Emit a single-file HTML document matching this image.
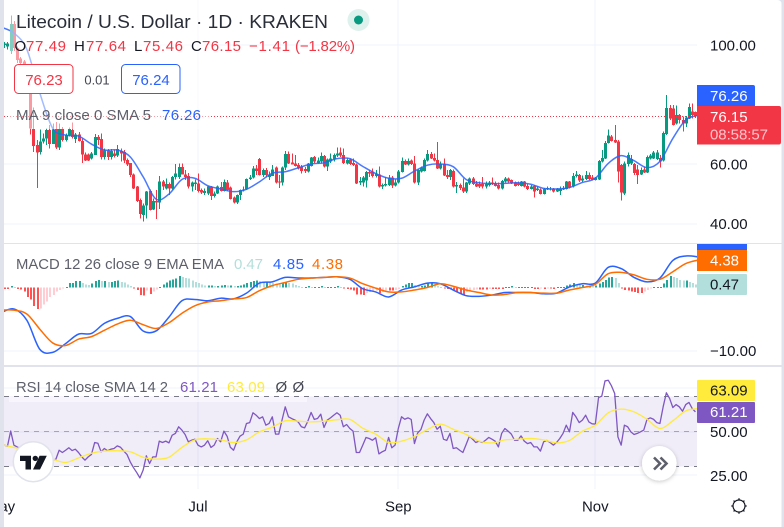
<!DOCTYPE html>
<html lang="en">
<head>
<meta charset="utf-8">
<title>Litecoin / U.S. Dollar chart</title>
<style>
html,body{margin:0;padding:0;background:#e0e3eb;}
svg{display:block;font-family:"Liberation Sans",sans-serif;}
text{font-size:15px;fill:#131722;}
</style>
</head>
<body>
<svg id="chart" xmlns="http://www.w3.org/2000/svg" width="784" height="527" viewBox="0 0 784 527">
  <defs>
    <clipPath id="clip-main"><rect x="4" y="0" width="693" height="243"/></clipPath>
    <clipPath id="clip-macd"><rect x="4" y="244" width="693" height="121"/></clipPath>
    <clipPath id="clip-rsi"><rect x="4" y="367" width="693" height="122"/></clipPath>
    <clipPath id="clip-time"><rect x="4" y="489" width="693" height="38"/></clipPath>
    <filter id="soft-shadow" x="-50%" y="-50%" width="200%" height="200%"><feDropShadow dx="0" dy="1" stdDeviation="2" flood-color="#000" flood-opacity="0.22"/></filter>
  </defs>
  <path d="M4 0H777Q781.5 0 781.5 4V527H4Z" fill="#ffffff"/>
  <g id="grid"></g>
  <rect id="rsi-band" x="4" y="396.5" width="693" height="70" fill="#7e57c2" fill-opacity="0.115"/>
  <g id="guides"></g>
  <g id="main-marks" clip-path="url(#clip-main)"></g>
  <line x1="4" x2="697" y1="116.5" y2="116.5" stroke="#f23645" stroke-width="1" stroke-dasharray="1 2"/>
  <g id="macd-marks" clip-path="url(#clip-macd)"></g>
  <g id="rsi-marks" clip-path="url(#clip-rsi)"></g>
  <rect x="10" y="0" width="200" height="129" fill="#ffffff" fill-opacity="0.5"/>
  <rect x="9" y="397" width="298" height="5" fill="#ffffff" fill-opacity="0.55"/>
  <rect x="4" y="243" width="777.5" height="1" fill="#e0e3eb"/>
  <rect x="4" y="365" width="777.5" height="2" fill="#e0e3eb"/>
  <g id="axis-labels"></g>

  <text x="16" y="28" style="font-size:18.5px;fill:#2a2e39" textLength="312" lengthAdjust="spacingAndGlyphs">Litecoin / U.S. Dollar · 1D · KRAKEN</text>
  <circle cx="358.5" cy="20" r="11" fill="#dff1ed"/>
  <circle cx="358.5" cy="20" r="4.5" fill="#089981"/>

  <g>
    <text x="14.5" y="51" textLength="11">O</text>
    <text x="26" y="51" style="fill:#f23645" textLength="40">77.49</text>
    <text x="74" y="51" textLength="11">H</text>
    <text x="86" y="51" style="fill:#f23645" textLength="40">77.64</text>
    <text x="134" y="51" textLength="8.5">L</text>
    <text x="143" y="51" style="fill:#f23645" textLength="40">75.46</text>
    <text x="191" y="51" textLength="10.5">C</text>
    <text x="202" y="51" style="fill:#f23645" textLength="39">76.15</text>
    <text x="249" y="51" style="fill:#f23645" textLength="41">−1.41</text>
    <text x="295" y="51" style="fill:#f23645" textLength="60">(−1.82%)</text>
  </g>

  <g>
    <rect x="14.5" y="64.5" width="58.5" height="29" rx="4" fill="#ffffff" stroke="#f23645"/>
    <text x="44" y="85" text-anchor="middle" style="fill:#f23645">76.23</text>
  </g>
  <text x="97" y="84.5" text-anchor="middle" style="font-size:13px;fill:#434651">0.01</text>
  <g>
    <rect x="121.5" y="64.5" width="58.5" height="29" rx="4" fill="#ffffff" stroke="#2962ff"/>
    <text x="151" y="85" text-anchor="middle" style="fill:#2962ff">76.24</text>
  </g>

  <text x="16" y="120" style="fill:#5d606b" textLength="135" lengthAdjust="spacingAndGlyphs">MA 9 close 0 SMA 5</text>
  <text x="162" y="120" style="fill:#2962ff" textLength="39">76.26</text>

  <text x="16" y="269" style="fill:#5d606b" textLength="208" lengthAdjust="spacingAndGlyphs">MACD 12 26 close 9 EMA EMA</text>
  <text x="234" y="269" style="fill:#b2dfdb" textLength="29">0.47</text>
  <text x="273" y="269" style="fill:#2962ff" textLength="31">4.85</text>
  <text x="312" y="269" style="fill:#ff6d00" textLength="31">4.38</text>

  <text x="16" y="392" style="fill:#5d606b" textLength="152" lengthAdjust="spacingAndGlyphs">RSI 14 close SMA 14 2</text>
  <text x="180" y="392" style="fill:#7e57c2" textLength="38">61.21</text>
  <text x="227" y="392" style="fill:#ffeb3b" textLength="38">63.09</text>
  <text x="275.5" y="392" style="fill:#434651">Ø</text>
  <text x="292.5" y="392" style="fill:#434651">Ø</text>

  <g>
    <path d="M697 85H753Q755 85 755 87V106H697Z" fill="#2962ff"/>
    <text x="710" y="101" style="fill:#ffffff">76.26</text>
  </g>
  <g>
    <path d="M697 106H779Q781 106 781 108V142Q781 144.5 779 144.5H697Z" fill="#f23645"/>
    <text x="710" y="122" style="fill:#ffffff">76.15</text>
    <text x="710" y="139.5" style="fill:#fbc4ca" textLength="58">08:58:57</text>
  </g>

  <rect x="697" y="244" width="50" height="7" fill="#2962ff"/>
  <rect x="697" y="250" width="50" height="21" fill="#ff6d00"/>
  <text x="710" y="265.5" style="fill:#ffffff" textLength="29">4.38</text>
  <rect x="697" y="274" width="50" height="21" rx="1" fill="#b2dfdb"/>
  <text x="710" y="289.5" style="fill:#131722" textLength="29">0.47</text>

  <rect x="697" y="380" width="58" height="21" rx="1" fill="#ffeb3b"/>
  <text x="710" y="395.5" style="fill:#131722">63.09</text>
  <rect x="697" y="402" width="58" height="21" rx="1" fill="#7e57c2"/>
  <text x="710" y="417" style="fill:#ffffff">61.21</text>

  <g>
    <circle cx="33.3" cy="461.7" r="20" fill="#ffffff" stroke="#e0e3eb" stroke-width="1.5"/>
    <path d="M20 455.7H31V469.5H25.5V461H20Z M39.6 455.7H46.8L40 469.5H33Z" fill="#131722"/>
    <circle cx="35.3" cy="458.4" r="2.7" fill="#131722"/>
  </g>
  <g>
    <circle cx="659.3" cy="463.3" r="17.3" fill="#ffffff" filter="url(#soft-shadow)"/>
    <path d="M654 457.5L660 463.5L654 469.5M660.5 457.5L666.5 463.5L660.5 469.5" fill="none" stroke="#5d606b" stroke-width="2.6"/>
  </g>
  <g fill="none" stroke="#131722">
    <circle cx="739" cy="506" r="6" stroke-width="1.2"/>
    <path d="M739 498.3V500M739 512V513.7M731.3 506H733M745 506H746.7M733.6 500.6L734.8 501.8M743.2 510.2L744.4 511.4M733.6 511.4L734.8 510.2M743.2 501.8L744.4 500.6" stroke-width="1.3"/>
  </g>
</svg>

<script>
// ---- chart data ----
const opens = [
99,100,99.5,98,107,99,95.5,94.5,93,84,
71.7,66.4,64.1,67.5,68.6,71.4,66.7,71.7,65.6,71.7,
68,69.5,71.4,68.4,70,67.8,63.2,63.2,61.9,63.1,
69,68.4,62.4,64.5,62.4,63.6,62.8,64.4,64.1,61.3,
60.3,56.5,52.4,47.9,42.8,46,51,44.7,47.5,47,
54.2,51.8,53.3,51.8,55.6,55.7,59,56.5,55.9,52.4,
53.3,53.5,51.2,50.3,50.1,52.4,49.2,50.1,52.2,51,
53.8,52.1,48.7,47,49.5,51.2,51.5,54.9,55.5,58.5,
61.7,56.3,58,55.7,56,58.8,54.1,53.7,58.8,63.3,
60.5,60.2,59.7,59.1,58.3,57.4,59.4,62.4,60.4,60.8,
62.7,59.1,60.8,61.5,62.8,63.8,63,60.2,61.5,60.4,
59.9,53.7,53.8,54.4,57.3,57.4,56,56.5,52.4,52.7,
53,55.5,52.7,53.7,57.3,61,59.9,61.1,60.2,53.7,
57.4,57.7,61.1,63.3,62.1,61.3,58.5,60.2,56.3,55.7,
57.6,52.4,53,52.1,50.7,53.5,55.2,53.5,53.3,53.3,
52.4,53,53.8,53.5,53,51.7,54.1,55.2,54.6,53.7,
53.5,52.6,54.1,52.6,51.6,52.6,51.2,51.5,50,51.5,
51.5,51.8,50.8,51,51.5,51.6,54.1,52.4,56,56.3,
54.4,55,56.3,55.4,54.6,54.8,60.8,61.9,67.1,69.2,
68,67.5,59.6,50.1,60,60.2,60,58.2,56.5,58.2,
57.2,61.9,61.9,61.7,62.1,61.1,70.1,78.9,78.7,73.6,
76.5,74.8,73.6,75.3,77.6,77.49];
const highs = [
100,101,101,110,108,99.5,96,95,93.5,85,
79,68,71.6,70.3,72,73.1,73.6,74.2,73.6,72.5,
70.3,72.3,73.9,70.5,70.8,68.6,63.9,63.6,64.1,70.1,
69.7,70.3,65.2,65,65,64.7,66.4,65.2,64.7,61.9,
60.4,56.8,52.6,48.4,46.8,50.9,51.5,48.4,51.2,56,
54.6,55.1,53.7,56,60,60.2,60.2,58,57,54.2,
54.8,56.8,51.8,51.8,52.6,52.6,50.7,52.7,54,54.8,
54.6,52.4,49,49.7,51.5,52.4,55.2,56.3,59.3,59.6,
62,58.5,58.7,57.4,59.6,59.1,56.3,59.1,64.4,64.2,
63.6,63,60.4,59.7,59,60.4,62.4,62.7,62.2,63.9,
63,61.9,63.6,63.6,65.6,65.6,65.2,61.9,61.9,61.9,
60.2,55.7,56,57.7,58,58.5,58,59.1,53.5,55.7,
56.3,56,54.8,58,62.2,61.5,61.9,61.5,62.7,58.2,
59.1,61.9,64.7,64.1,63.6,67.4,60.8,61.9,58,58.3,
58.2,54,53.5,55.2,54,55.5,55.7,54.3,54.1,55.7,
54.1,54.3,55.5,54.1,53.7,54.6,55.7,55.5,54.8,54.1,
54.1,54.3,54.3,53.2,53,53,52.4,51.8,52,52.4,
52.3,52,52,52.4,52.6,54.3,54.3,56.9,57.6,56.6,
56.1,57.6,57.1,56.3,55.7,61.3,64.7,67.8,71.6,69.7,
73.1,68,60,60.8,63.9,63,60.4,59.6,58.9,59.1,
62.8,63.3,64.3,64.7,63,70.9,83.2,79.8,79.8,79.6,
76.8,75.9,76.1,80.4,80.4,77.64];
const lows = [
98,99,98.5,97,98,94,92,91,85,70,
64.1,52,63.2,66.9,66.4,65.2,66.7,65,64.7,67.5,
67.5,69.2,68.6,67.1,67.5,60.4,61,61,61.5,63,
66.4,61.5,61.5,61.3,61.5,62.2,62.4,60.8,60.4,59.3,
55.7,51.6,47.3,41.7,40.6,41.7,44.3,44.5,41.5,44.8,
51.2,51.5,49.6,51.5,54.8,55,56.5,54.6,51.8,50.7,
51.2,50.4,49.9,49.6,49.6,47.9,48.8,49.9,50.7,50.7,
51,48.1,46.8,46.5,47.9,50.7,51.2,54.6,55.2,56.3,
56.2,55.7,55.5,54.6,56,53.5,52,52.8,58,60,
59.8,59.1,58.2,56.8,57,57.2,59.1,60.4,60.2,60.2,
58.9,57.7,60.4,60.8,62.4,62.4,60,59.9,59.7,59.4,
53.3,52.9,52.4,52.1,55.7,55.5,55.5,52.1,51.6,52.4,
52.6,52,52.5,53.5,57.1,59.7,59.5,59.7,53.5,52.9,
57.1,57.4,60.8,61.6,60.8,58.3,58.2,56,54.9,54.6,
52.1,50.3,51.2,50.3,50.3,53,53,52.2,52,51.8,
51.8,52.4,53,52.4,51.5,51.5,53.7,53.7,53.3,52.4,
52.6,52.4,52.1,51.2,51.5,48.7,51,49.8,49.8,51.2,
51.1,50.5,50.6,49.6,51.2,51.5,51.8,52.1,55.5,54,
54,54.6,54.6,54.4,54.4,54.6,60.5,61.7,66.9,67.5,
67,53.7,47.7,49.6,59.1,59.6,56.3,53.3,56.3,56.9,
56.9,61.5,61.7,61.3,58.9,60.9,69.8,74.8,72.9,73.3,
73.6,70.9,72.5,75.1,75.3,75.46];
const closes = [
100,100.5,100.5,107,99,95,94,93,88,72,
66.1,63.9,67.6,68.6,71.4,66.7,71.6,65.5,71.7,68,
69.7,71.7,69,70,67.8,63.2,61.1,61.1,63.6,69,
68,62.4,64.5,62.4,64.4,62.7,65,63.6,61.1,59.9,
56.3,51.8,47.5,43.2,46,50.7,44.5,47.5,47,54.2,
52.4,53.3,51.7,55.6,56.8,59,56.5,55.7,52.4,53.7,
53.7,50.9,50.4,50.9,52.4,49.2,50.1,52.4,51,54,
51.2,48.3,47,49.5,51.2,51.5,55,55.5,58.5,57.7,
56.3,58,56.3,56.5,58.2,53.7,53.7,58.9,63.3,60.2,
59.9,59.3,58.5,57.6,57.6,60.2,62.2,60.8,61.1,62.7,
59.1,61.5,61.9,63,63.6,62.9,60.4,61.3,60,59.7,
53.5,54.3,55.5,57.3,56.8,56,56.8,52.4,53,53.3,
55.5,52.7,53.8,57.4,61,59.9,61,60,53.7,58,
58.9,61.3,63.3,61.9,61.1,58.5,60,56.1,55.7,58,
52.4,53,52,50.7,53.7,55.2,53.3,52.4,52.4,52.4,
53.3,53.8,53.3,52.6,51.7,54.3,55.2,54.1,53.5,52.6,
53,54.1,52.4,51.6,52.4,50.7,51.8,50,51.6,52,
51.8,50.7,51.7,51.6,52,54.1,52.1,56,56.5,54.4,
55.2,56.3,55,54.8,55.4,61,62.1,67.1,69.5,67.8,
67.3,57.4,50.4,60.2,63,61.6,56.9,56.3,58,57.2,
62.4,62.8,63.9,63.8,60.8,70.5,78.9,75.3,73.1,76.5,
74.8,73.6,75.7,79.2,76.5,76.15];

// Smooth lines were read once every SMOOTH_STEP daily bars.
const SMOOTH_STEP = 4;
const maValues = [106,104,98.5,83.9,72,69.7,69.4,66.7,64.7,64.7,62.4,55.7,48.2,49.9,54.8,55.2,52.7,51.6,50.7,51.5,54,56.9,57.4,58.7,60,60.4,61.8,61.8,59.2,56.8,55.2,55.2,57.6,59.6,60,59.1,54.8,53.7,53.4,53.5,53.7,53.2,51.8,51.6,52.1,53.8,55.2,60.2,62.8,61.1,58.8,60.9,68.6,74.8,76.4];
const macdValues = [-4,-3.4,-5.2,-9.8,-10.3,-8.9,-7.4,-7.3,-5.7,-4.9,-4.6,-6.9,-6.9,-4.7,-2.1,-1.9,-2.1,-1.7,-1.8,-0.9,0.7,0.9,1.6,1.5,1.5,1.6,1.7,1.3,-0.2,-0.7,-1.5,-0.4,0.1,0.7,0.6,-0.4,-1.3,-1.4,-1.2,-0.8,-0.8,-0.8,-1,-0.9,0.1,0.6,0.7,3.2,3,1.6,0.9,1.5,4.3,5,4.85];
const signalValues = [-3.6,-3.6,-4.2,-6.6,-8.8,-9.2,-8.2,-7.8,-6.8,-5.8,-5.2,-5.9,-6.5,-5.6,-4.1,-2.9,-2.3,-2.1,-1.8,-1.6,-0.5,0.3,0.8,1.3,1.5,1.6,1.7,1.5,0.6,-0.1,-0.7,-0.7,-0.4,0,0.6,0.2,-0.4,-0.8,-1.2,-1.1,-0.8,-0.8,-0.9,-0.9,-0.4,0,0.5,2.2,2.4,2,1.3,1.3,2.5,3.8,4.38];
const rsiMaValues = [42.6,40.9,39.3,36.5,34.2,32.3,34.9,37.6,38.8,39,38.4,35.3,34.2,35.3,40.9,45.2,45.8,45.2,43.7,45.2,49.8,52.5,56.1,55.9,55.5,55.9,56.7,56.9,51.9,48.5,43.7,44.5,47.1,51.1,54.2,51.3,48.3,44.5,43.5,45.2,45.6,46,45.2,43.5,44.9,50.2,53.6,60.7,62.8,61.2,57,51.7,56.1,61.8,63.09];

const histValues = [
-0.2,-0.2,-0.2,0.2,0.05,-0.2,-0.3,-0.6,-1.5,-1.9,
-2.9,-3.4,-3.3,-2.7,-2.2,-1.5,-1.2,-0.6,-0.4,-0.1,
0.1,0.7,0.7,1,1,0.7,0.5,0.4,0.6,1,
1.2,1,1,0.9,0.9,1,1.1,0.9,0.8,0.5,
0.2,-0.1,-0.4,-1.2,-1.3,-0.5,-1,-0.6,-0.3,0.1,
0.5,0.8,1.1,1.3,1.4,1.8,1.7,1.5,1.4,1.1,
0.9,0.7,0.5,0.3,0.3,0.3,0.2,0.2,0.3,0.4,
0.3,0.3,0.2,0.2,0.3,0.5,0.7,0.9,1,1.1,
1,0.9,0.9,0.8,0.7,0.6,0.5,0.6,0.9,0.7,
0.6,0.4,0.2,0.1,0.1,0.2,0.1,0.1,0.1,0.2,
0.1,0.1,0.1,0.1,0.2,0.05,-0.1,-0.2,-0.3,-0.5,
-1.1,-1.1,-1.2,-0.9,-0.7,-0.6,-0.5,-0.9,-0.7,-0.5,
-0.5,-0.5,-0.4,-0.2,0.2,0.5,0.7,0.7,0.4,0.2,
0.2,0.3,0.6,0.7,0.4,0.2,0.1,-0.1,-0.2,-0.3,
-0.5,-0.8,-1,-1.1,-0.7,-0.5,-0.4,-0.3,-0.3,-0.3,
-0.3,-0.2,-0.2,-0.2,-0.2,-0.2,0.1,0.1,0.2,0.1,
0.1,0.1,0.1,0.1,0.1,-0.2,-0.2,-0.1,-0.2,-0.1,
-0.1,-0.2,0.1,0.1,0.1,0.3,0.5,0.7,0.5,0.4,
0.4,0.3,0.3,0.2,0.3,0.6,0.9,1.2,1.6,1.7,
1.5,0.7,-0.1,-0.4,-0.5,-0.6,-0.7,-0.9,-0.9,-0.6,
-0.4,-0.1,0.1,0.1,0.1,0.6,1.2,1.8,1.7,1.5,
1.2,1.1,1.1,0.9,0.7,0.47];

const rsiValues = [
42.6,42.2,41.6,50.3,42.2,41.2,40.3,39.3,38,35.5,
31.7,30.8,33.6,35.5,36.9,33.6,33.6,34.2,39.3,38,
39.3,40.7,39.1,39.9,38,35.5,33.6,35.5,36.9,43.7,
43.3,38.4,40.3,39,39.9,40.3,41.8,41,38.8,36.9,
32.7,29.4,26.6,23.5,27.9,36.1,31.7,35.5,35.5,44.5,
43.7,44.5,43.5,47.9,48.9,52.7,50.8,48.3,44.1,45,
45.6,42.2,41.2,42.2,44.7,40.9,42.2,46,44.1,50.2,
47.3,41,39.3,44.1,47.3,48.5,54.6,55.1,60.7,59.3,
57.4,58.4,53.6,54.6,58.4,48.5,48.5,56.5,64.1,58.4,
57.4,56.5,55.5,52.7,52.1,55.9,60.9,56.9,57.4,59.9,
52.3,56.5,57.8,59.3,60.7,59.3,52.7,54,51.7,50.2,
38,38,42.2,46.6,46,45,46.4,37.2,38.4,39.3,
46.6,40.7,42.2,51.7,58.4,57,57.8,56.9,43.1,49.2,
51.1,56.5,60.1,57.4,55.1,51.3,53,45.6,44.9,48.9,
40.3,40.7,39.3,38,42.6,47.3,45.6,43.7,44.5,43.7,
45,46.6,45.6,44.5,41.2,48.9,51.7,50.2,48.5,45,
45,47.5,44.5,43.1,43.7,41.2,41.2,38.8,44.1,44.9,
43.7,42.2,43.7,46,48.9,53.6,49.8,60.9,58.4,55.1,
56.5,59.3,55.5,54.4,54.2,69.4,70.2,78.9,79.3,76.1,
71.7,46.9,42.2,53.6,52.7,49.8,48.3,48.9,49.8,50.8,
56.9,57.8,57,55.1,54.6,64.1,72.1,68.9,63.7,65.4,
64.1,61.6,65.4,66.6,63.1,61.21];

const priceTicks = [100, 60, 40];
const macdTicks = [-10];
const rsiTicks = [75, 50, 25];
const rsiGuides = [70, 50, 30];
const monthLabels = ['May', 'Jul', 'Sep', 'Nov'];
const monthBars = [0, 61, 123, 184];

// ---- axis functions ----
function barX(i) { return 1 + 3.23 * i; }
function priceY(v) { return 45 + (100 - v) * 2.975; }
function macdY(v) { return 287.5 - v * 6.3; }
function rsiY(v) { return 431.5 - (v - 50) * 1.75; }

const NS = 'http://www.w3.org/2000/svg';
function make(tag, attrs, parent) {
  const el = document.createElementNS(NS, tag);
  for (const k in attrs) el.setAttribute(k, attrs[k]);
  parent.appendChild(el);
  return el;
}
const GRID = '#f0f3fa';
const gridG = document.getElementById('grid');
const guidesG = document.getElementById('guides');
const mainG = document.getElementById('main-marks');
const macdG = document.getElementById('macd-marks');
const rsiG = document.getElementById('rsi-marks');
const labelsG = document.getElementById('axis-labels');

// ---- grid and tick labels ----
function hGrid(y) {
  const el = make('rect', {x: 4, y: Math.round(y) - 0.5, width: 693, height: 1, fill: GRID}, gridG);
  
  
}
function axisText(label, y) {
  const el = make('text', {x: 710, y: y + 5.5}, labelsG);
  el.textContent = label;
  
  
}
priceTicks.forEach(function (t) { hGrid(priceY(t)); axisText(t.toFixed(2), priceY(t)); });
macdTicks.forEach(function (t) { hGrid(macdY(t)); axisText('−' + Math.abs(t).toFixed(2), macdY(t)); });
rsiTicks.forEach(function (t) {
  hGrid(rsiY(t));
  if (t !== 75) axisText(t.toFixed(2), rsiY(t));
});
monthBars.forEach(function (b, k) {
  if (b > 0) {
    const line = make('rect', {x: Math.round(barX(b)) - 0.5, y: 0, width: 1, height: 489, fill: GRID}, gridG);
    
    
  }
  const txt = make('text', {x: barX(b), y: 511.5, 'text-anchor': 'middle', 'clip-path': 'url(#clip-time)'}, labelsG);
  txt.textContent = monthLabels[k];
  
  
});
rsiGuides.forEach(function (g) {
  const el = make('line', {x1: 4, x2: 697, y1: rsiY(g), y2: rsiY(g), stroke: '#787b86', 'stroke-width': 1, 'stroke-dasharray': '5 5', 'stroke-opacity': g === 50 ? 0.6 : 1}, guidesG);
  
  
});

// ---- candles ----
closes.forEach(function (c, i) {
  const o = opens[i];
  const col = c >= o ? '#089981' : '#f23645';
  const cx = Math.round(barX(i));
  const wick = make('rect', {x: cx, y: priceY(highs[i]), width: 1, height: Math.max(1, priceY(lows[i]) - priceY(highs[i])), fill: col, 'shape-rendering': 'crispEdges'}, mainG);
  
  
  const top = priceY(Math.max(o, c));
  const body = make('rect', {x: cx - 1, y: top, width: 3, height: Math.max(1, priceY(Math.min(o, c)) - top), fill: col, 'shape-rendering': 'crispEdges'}, mainG);
  
  
});

// ---- histogram ----
histValues.forEach(function (v, i) {
  const prev = i > 0 ? histValues[i - 1] : v;
  let col;
  if (v >= 0) col = v >= prev ? '#26a69a' : '#b2dfdb';
  else col = v <= prev ? '#ff5252' : '#ffcdd2';
  const y0 = macdY(0), y1 = macdY(v);
  const bar = make('rect', {x: Math.round(barX(i)), y: Math.min(y0, y1), width: 2, height: Math.max(1, Math.abs(y1 - y0)), fill: col, 'shape-rendering': 'crispEdges'}, macdG);
  
  
});

// ---- lines ----
function pointsFor(values, yFn, step) {
  return values.map(function (v, i) { return barX(i * step).toFixed(2) + ',' + yFn(v).toFixed(2); }).join(' ');
}
// Draws a smooth curve through the sampled values (Catmull-Rom to cubic Bezier).
function curveFor(values, yFn, step) {
  const px = values.map(function (v, i) { return [barX(i * step), yFn(v)]; });
  let d = 'M' + px[0][0].toFixed(2) + ' ' + px[0][1].toFixed(2);
  for (let i = 0; i < px.length - 1; i++) {
    const a = px[Math.max(0, i - 1)], b = px[i], c = px[i + 1], e = px[Math.min(px.length - 1, i + 2)];
    d += 'C' + (b[0] + (c[0] - a[0]) / 6).toFixed(2) + ' ' + (b[1] + (c[1] - a[1]) / 6).toFixed(2) + ' ' +
         (c[0] - (e[0] - b[0]) / 6).toFixed(2) + ' ' + (c[1] - (e[1] - b[1]) / 6).toFixed(2) + ' ' +
         c[0].toFixed(2) + ' ' + c[1].toFixed(2);
  }
  return d;
}
const maLine = make('path', {d: curveFor(maValues, priceY, SMOOTH_STEP), fill: 'none', stroke: '#2962ff', 'stroke-width': 1.5, 'stroke-linejoin': 'round', 'stroke-opacity': 0.85}, mainG);


const macdLine = make('path', {d: curveFor(macdValues, macdY, SMOOTH_STEP), fill: 'none', stroke: '#2962ff', 'stroke-width': 1.5, 'stroke-linejoin': 'round'}, macdG);


const signalLine = make('path', {d: curveFor(signalValues, macdY, SMOOTH_STEP), fill: 'none', stroke: '#ff6d00', 'stroke-width': 1.5, 'stroke-linejoin': 'round'}, macdG);


const rsiLine = make('polyline', {points: pointsFor(rsiValues, rsiY, 1), fill: 'none', stroke: '#7e57c2', 'stroke-width': 1.3, 'stroke-linejoin': 'round'}, rsiG);


const rsiMaLine = make('path', {d: curveFor(rsiMaValues, rsiY, SMOOTH_STEP), fill: 'none', stroke: '#ffeb3b', 'stroke-width': 1.3, 'stroke-linejoin': 'round'}, rsiG);


</script>
</body>
</html>
